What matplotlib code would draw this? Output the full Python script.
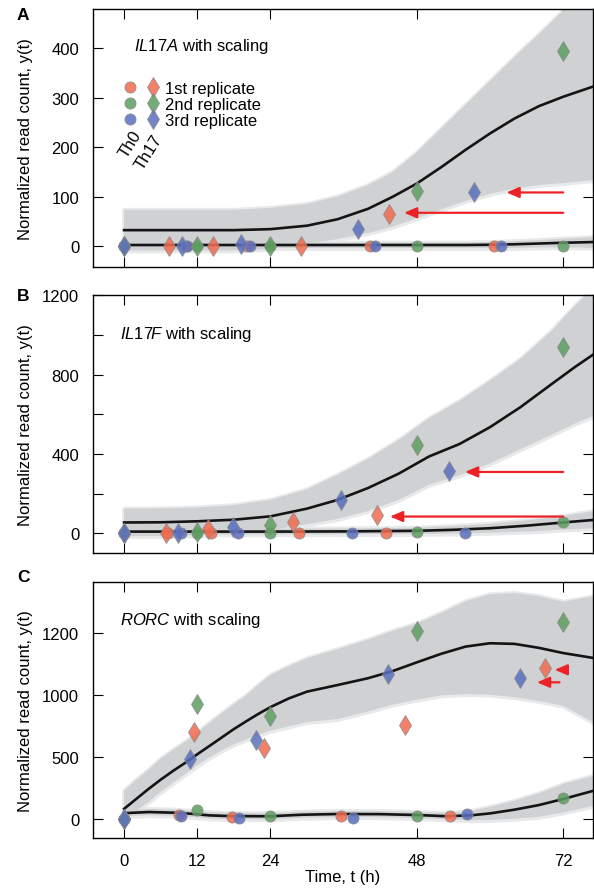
import matplotlib.pyplot as plt
from matplotlib.lines import Line2D
from matplotlib.legend_handler import HandlerTuple

plt.rcParams['font.family'] = ['Liberation Sans', 'DejaVu Sans']
plt.rcParams['mathtext.fontset'] = 'custom'
plt.rcParams['mathtext.rm'] = 'Liberation Sans'
plt.rcParams['mathtext.it'] = 'Liberation Sans:italic'

# ---------------- data ----------------
replicates = ['1st replicate', '2nd replicate', '3rd replicate']
rep_colors = ['#f26b4f', '#5c9f5f', '#5a6fc0']
x_ticks = [0, 12, 24, 48, 72]

# panel A : IL17A
a_th0_t = [[0, 10.1, 20.2, 40.4, 60.6], [0, 12, 24, 48, 72], [0, 10.3, 20.6, 41.2, 61.8]]
a_th0_y = [[0, 0, 1, 1, 0], [0, 0, 0, 0, 1], [0, 0, 0, 0, 0]]
a_th17_t = [[0, 7.3, 14.5, 29.0, 43.5], [0, 12, 24, 48, 72], [0, 9.5, 19.1, 38.3, 57.4]]
a_th17_y = [[0, 0, 0, 2, 66], [0, 0, 0, 112, 395], [0, 0, 6, 36, 110]]
a_th17_grid = [0, 6, 12, 18, 24, 30, 35, 40, 44, 48, 52, 56, 60, 64, 68, 72, 77]
a_th17_mean = [33, 33, 33, 33, 35, 42, 55, 76, 100, 127, 160, 195, 228, 258, 283, 302, 323]
a_th17_up = [74, 74, 74, 74, 78, 86, 101, 124, 150, 190, 238, 286, 334, 382, 428, 476, 536]
a_th17_lo = [-8, -8, -8, -8, -5, 5, 15, 27, 40, 57, 75, 92, 106, 117, 124, 128, 134]
a_th0_grid = [0, 12, 24, 36, 48, 56, 60, 64, 68, 72, 77]
a_th0_mean = [3, 3, 3, 3, 3, 3, 3.5, 4.5, 6, 7.5, 9]
a_th0_up = [8, 8, 8, 8, 8, 8, 9, 11, 13, 16, 19]
a_th0_lo = [-3, -3, -3, -3, -3, -3, -3, -3, -2, -2, -2]
a_arrows = [(62.7, 109, 72), (45.9, 68, 72)]

# panel B : IL17F
b_th0_t = [[0, 7.2, 14.3, 28.6, 43.0], [0, 12, 24, 48, 72], [0, 9.3, 18.6, 37.3, 55.9]]
b_th0_y = [[0, 0, 0, 0, 0], [0, 0, 0, 8, 55], [0, 0, 0, 0, 3]]
b_th17_t = [[0, 6.9, 13.8, 27.7, 41.5], [0, 12, 24, 48, 72], [0, 8.9, 17.8, 35.5, 53.3]]
b_th17_y = [[0, 0, 20, 54, 93], [0, 5, 41, 445, 940], [0, 0, 29, 167, 316]]
b_th17_grid = [0, 6, 12, 18, 24, 30, 35, 40, 45, 50, 55, 60, 65, 70, 74, 77]
b_th17_mean = [54, 55, 60, 68, 85, 124, 168, 228, 300, 387, 450, 535, 636, 750, 840, 903]
b_th17_up = [124, 125, 130, 142, 168, 222, 295, 375, 470, 580, 668, 770, 880, 1018, 1150, 1240]
b_th17_lo = [-15, -14, -10, 0, 15, 45, 72, 112, 168, 245, 292, 352, 424, 495, 555, 592]
b_th0_grid = [0, 12, 24, 36, 48, 54, 60, 66, 72, 77]
b_th0_mean = [8, 8, 8, 9, 12, 17, 25, 38, 54, 67]
b_th0_up = [22, 22, 22, 24, 28, 36, 48, 65, 87, 112]
b_th0_lo = [-6, -6, -6, -5, -4, -2, 2, 8, 18, 25]
b_arrows = [(55.9, 309, 72), (43.6, 84, 72)]

# panel C : RORC  (values on the drawn linear scale, top label reads 1200)
c_th0_t = [[0, 9.0, 17.7, 35.5, 53.4], [0, 12, 24, 48, 72], [0, 9.4, 18.8, 37.5, 56.2]]
c_th0_y = [[5, 35, 18, 30, 25], [5, 78, 30, 28, 170], [5, 30, 8, 10, 43]]
c_th17_t = [[0, 11.5, 23.0, 46.0, 69.1], [0, 12, 24, 48, 72], [0, 10.8, 21.6, 43.3, 65.0]]
c_th17_y = [[5, 708, 578, 763, 1224], [5, 927, 833, 1519, 1594], [5, 490, 641, 1171, 1138]]
c_th17_grid = [0, 2, 4, 6, 8, 10, 12, 14, 16, 18, 20, 22, 24, 27, 30, 35, 40, 44, 48, 52, 56, 60,
               64, 68, 72, 77]
c_th17_mean = [85, 165, 245, 320, 390, 455, 525, 592, 660, 728, 790, 850, 905, 975, 1030, 1083,
               1138, 1195, 1266, 1335, 1393, 1420, 1415, 1383, 1341, 1301]
c_th17_up = [231, 320, 400, 490, 560, 625, 700, 780, 855, 930, 1000, 1085, 1165, 1235, 1300, 1373,
             1450, 1520, 1580, 1665, 1760, 1815, 1825, 1800, 1755, 1800]
c_th17_lo = [30, 70, 140, 222, 295, 365, 435, 500, 555, 605, 645, 680, 715, 750, 785, 809,
             870, 925, 965, 1000, 1010, 1005, 985, 955, 916, 782]
c_th0_grid = [0, 4, 8, 11, 14, 17, 20, 24, 29, 35, 42, 48, 53, 57, 60, 64, 68, 72, 77]
c_th0_mean = [50, 59, 54, 45, 32, 27, 26, 25, 37, 43, 42, 35, 25, 33, 48, 78, 115, 164, 231]
c_th0_up = [75, 84, 79, 70, 57, 52, 51, 50, 62, 68, 67, 60, 52, 70, 100, 150, 210, 285, 352]
c_th0_lo = [25, 34, 29, 20, 7, 2, 1, 0, 12, 18, 17, 10, 0, -8, -5, 5, 20, 56, 110]
c_arrows = [(67.7, 1105, 71.4), (70.6, 1206, 72.3)]

# ---------------- figure ----------------
fig = plt.figure(figsize=(5.94, 8.95), dpi=100)
ax_a = fig.add_axes([0.1566, 0.7002, 0.8418, 0.2886])
ax_b = fig.add_axes([0.1566, 0.3810, 0.8418, 0.2883])
ax_c = fig.add_axes([0.1566, 0.0622, 0.8418, 0.2867])


def band(ax, t, lo, up):
    # light fringe, then the grey band
    ax.fill_between(t, lo, up, facecolor='#e8e9ea', edgecolor='#e8e9ea', lw=3.5, zorder=1)
    ax.fill_between(t, lo, up, facecolor='#d0d1d3', edgecolor='none', lw=0, zorder=2)


def panel(ax, th0_t, th0_y, th17_t, th17_y, g17, m17, u17, l17, g0, m0, u0, l0, arrows):
    band(ax, g17, l17, u17)
    band(ax, g0, l0, u0)
    ax.plot(g17, m17, color='#141414', lw=1.9, zorder=3)
    ax.plot(g0, m0, color='#141414', lw=1.9, zorder=3)
    for i in range(3):
        ax.plot(th0_t[i], th0_y[i], ls='none', marker='o', ms=8, mfc=rep_colors[i],
                mec='#888888', mew=0.6, alpha=0.85, zorder=4)
    for i in range(3):
        ax.plot(th17_t[i], th17_y[i], ls='none', marker='d', ms=10.5, mfc=rep_colors[i],
                mec='#888888', mew=0.6, alpha=0.85, zorder=5)
    for tip, v, start in arrows:
        ax.annotate('', xy=(tip, v), xytext=(start, v),
                    arrowprops=dict(arrowstyle='-|>,head_length=0.75,head_width=0.32',
                                    color='#ec2227', lw=1.6, shrinkA=0, shrinkB=0),
                    zorder=6)
    ax.set_xlim(-5.1, 76.9)
    ax.set_xticks(x_ticks)
    ax.tick_params(direction='in', length=7, width=0.8, top=True, right=True,
                   labelsize=12, pad=10)
    ax.tick_params(axis='x', pad=10.5)
    for s in ax.spines.values():
        s.set_linewidth(1.0)
    ax.set_ylabel('Normalized read count, y(t)', fontsize=12)
    ax.yaxis.set_label_coords(-0.12, 0.5)


panel(ax_a, a_th0_t, a_th0_y, a_th17_t, a_th17_y, a_th17_grid, a_th17_mean, a_th17_up,
      a_th17_lo, a_th0_grid, a_th0_mean, a_th0_up, a_th0_lo, a_arrows)
panel(ax_b, b_th0_t, b_th0_y, b_th17_t, b_th17_y, b_th17_grid, b_th17_mean, b_th17_up,
      b_th17_lo, b_th0_grid, b_th0_mean, b_th0_up, b_th0_lo, b_arrows)
panel(ax_c, c_th0_t, c_th0_y, c_th17_t, c_th17_y, c_th17_grid, c_th17_mean, c_th17_up,
      c_th17_lo, c_th0_grid, c_th0_mean, c_th0_up, c_th0_lo, c_arrows)

ax_a.set_ylim(-42, 479)
ax_a.set_yticks([0, 100, 200, 300, 400])
ax_b.set_ylim(-100, 1202)
ax_b.set_yticks([0, 200, 400, 600, 800, 1000, 1200])
ax_b.set_yticklabels(['0', '', '400', '', '800', '', '1200'])
ax_c.set_ylim(-153, 1916)
ax_c.set_yticks([0, 500, 1000, 1500])
ax_c.set_yticklabels(['0', '500', '1000', '1200'])

ax_a.tick_params(axis='x', labelbottom=False)
ax_b.tick_params(axis='x', labelbottom=False)
ax_c.set_xlabel('Time, t (h)', fontsize=12, labelpad=1)

# titles inside panels
ax_a.text(0.082, 0.8424, r'$\it{IL17A}$ with scaling', transform=ax_a.transAxes,
          fontsize=12, va='baseline')
ax_b.text(0.053, 0.832, r'$\it{IL17F}$ with scaling', transform=ax_b.transAxes,
          fontsize=12, va='baseline')
ax_c.text(0.053, 0.835, r'$\it{RORC}$ with scaling', transform=ax_c.transAxes,
          fontsize=12, va='baseline')

# legend: circle = Th0, diamond = Th17
handles = []
for c in rep_colors:
    h0 = Line2D([], [], ls='none', marker='o', ms=8, mfc=c, mec='#888888', mew=0.6, alpha=0.85)
    h1 = Line2D([], [], ls='none', marker='d', ms=10.5, mfc=c, mec='#888888', mew=0.6, alpha=0.85)
    handles.append((h0, h1))
ax_a.legend(handles, replicates, handler_map={tuple: HandlerTuple(ndivide=None, pad=0)},
            loc='upper left', bbox_to_anchor=(0.0498, 0.722), borderaxespad=0, borderpad=0,
            frameon=False, fontsize=12, handlelength=2.78, handletextpad=0.05,
            labelspacing=0.06)

ax_a.text(0.074, 0.481, 'Th0', transform=ax_a.transAxes, rotation=58, fontsize=12,
          ha='center', va='center')
ax_a.text(0.112, 0.450, 'Th17', transform=ax_a.transAxes, rotation=58, fontsize=12,
          ha='center', va='center')

# panel letters
fig.text(17 / 594, 1 - 7.5 / 895, 'A', fontsize=12.5, weight='bold', va='top')
fig.text(17 / 594, 1 - 289 / 895, 'B', fontsize=12.5, weight='bold', va='top')
fig.text(17 / 594, 1 - 570.5 / 895, 'C', fontsize=12.5, weight='bold', va='top')

fig.savefig('out.png', dpi=100)
